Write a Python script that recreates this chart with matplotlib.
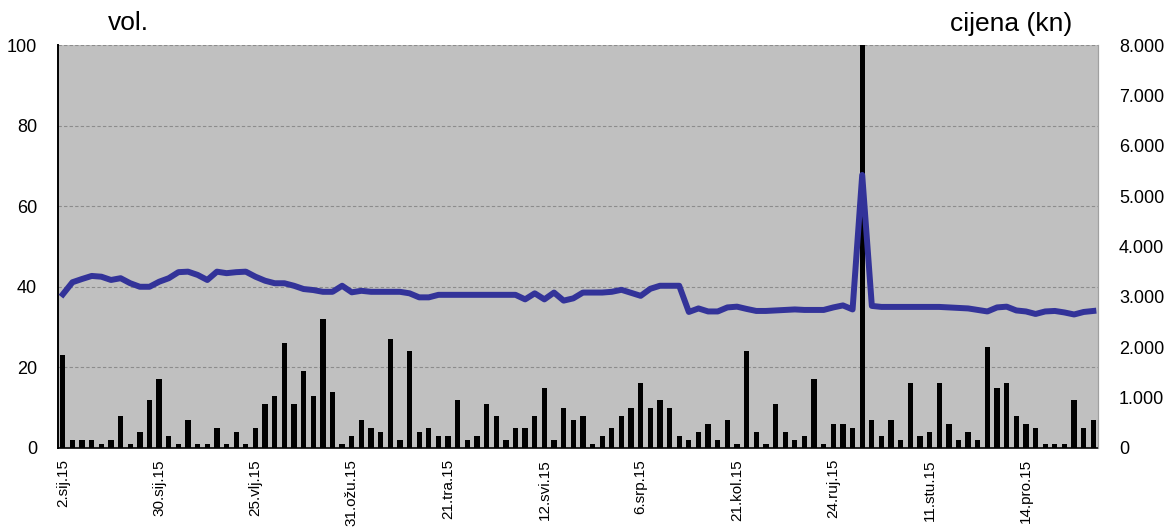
import matplotlib

matplotlib.use("Agg")

import matplotlib.pyplot as plt
import numpy as np
from matplotlib.ticker import FuncFormatter, MultipleLocator

# trading days with turnover; only every 10th date is shown on the axis
TICK_LABELS = [
    "2.sij.15", "30.sij.15", "25.vlj.15", "31.ožu.15", "21.tra.15", "12.svi.15",
    "6.srp.15", "21.kol.15", "24.ruj.15", "11.stu.15", "14.pro.15",
]

# volume per trading day (left axis); the spike runs off the top
volume = [
    23, 2, 2, 2, 1, 2, 8, 1, 4, 12,
    17, 3, 1, 7, 1, 1, 5, 1, 4, 1,
    5, 11, 13, 26, 11, 19, 13, 32, 14, 1,
    3, 7, 5, 4, 27, 2, 24, 4, 5, 3,
    3, 12, 2, 3, 11, 8, 2, 5, 5, 8,
    15, 2, 10, 7, 8, 1, 3, 5, 8, 10,
    16, 10, 12, 10, 3, 2, 4, 6, 2, 7,
    1, 24, 4, 1, 11, 4, 2, 3, 17, 1,
    6, 6, 5, 130, 7, 3, 7, 2, 16, 3,
    4, 16, 6, 2, 4, 2, 25, 15, 16, 8,
    6, 5, 1, 1, 1, 12, 5, 7,
]

# closing price in kn (right axis)
price = [
    3050, 3290, 3355, 3415, 3400, 3335, 3370, 3270, 3200, 3200,
    3300, 3370, 3490, 3500, 3435, 3335, 3500, 3470, 3490, 3500,
    3400, 3320, 3270, 3270, 3220, 3155, 3135, 3100, 3100, 3220,
    3090, 3120, 3100, 3100, 3100, 3100, 3070, 2990, 2990, 3040,
    3040, 3040, 3040, 3040, 3040, 3040, 3040, 3040, 2950, 3070,
    2950, 3085, 2925, 2970, 3085, 3085, 3085, 3100, 3140, 3080,
    3020, 3160, 3220, 3220, 3220, 2700, 2770, 2710, 2710, 2790,
    2805, 2760, 2720, 2720, 2730, 2740, 2750, 2740, 2740, 2740,
    2790, 2830, 2750, 5420, 2820, 2800, 2800, 2800, 2800, 2800,
    2800, 2800, 2790, 2780, 2770, 2740, 2710, 2790, 2805, 2730,
    2710, 2660, 2710, 2720, 2690, 2650, 2700, 2720,
]

plt.rcParams["font.family"] = ["Liberation Sans", "DejaVu Sans"]

fig = plt.figure(figsize=(11.72, 5.27), dpi=100, facecolor="white")
ax = fig.add_axes([0.0495, 0.150, 0.8875, 0.7646], facecolor="#C0C0C0")

x = np.arange(len(volume))
ax.bar(x, volume, width=0.55, color="black", zorder=2)
ax.set_xlim(-0.5, len(volume) - 0.5)
ax.set_ylim(0, 100)
ax.yaxis.set_major_locator(MultipleLocator(20))
ax.grid(axis="y", color="#8C8C8C", linestyle=(0, (3, 2)), linewidth=0.8, zorder=1)
ax.set_axisbelow(True)

ax.set_xticks(x[::10])
ax.set_xticklabels(TICK_LABELS, rotation=90, fontsize=11, va="top", ha="center")
ax.tick_params(axis="x", length=0, pad=8)
ax.tick_params(axis="y", length=0, pad=15, labelsize=13)

ax.spines["left"].set_color("black")
ax.spines["left"].set_linewidth(1.4)
ax.spines["bottom"].set_color("black")
ax.spines["bottom"].set_linewidth(1.2)
ax.spines["top"].set_visible(False)
ax.spines["right"].set_color("#A0A0A0")

ax2 = ax.twinx()
ax2.plot(x, price, color="#333399", linewidth=4.3, solid_joinstyle="round", zorder=3)
ax2.set_ylim(0, 8000)
ax2.yaxis.set_major_locator(MultipleLocator(1000))
ax2.yaxis.set_major_formatter(
    FuncFormatter(lambda v, _: f"{int(v):,}".replace(",", "."))
)
ax2.tick_params(axis="y", length=0, pad=15, labelsize=13)
for side in ("left", "bottom", "top"):
    ax2.spines[side].set_visible(False)
ax2.spines["right"].set_color("#A0A0A0")

fig.text(108 / 1172, 1 - 23 / 527, "vol.", fontsize=19, va="center", ha="left")
fig.text(1072 / 1172, 1 - 24 / 527, "cijena (kn)", fontsize=19, va="center", ha="right")

fig.savefig("out.png", dpi=100, facecolor=fig.get_facecolor())
plt.close(fig)
